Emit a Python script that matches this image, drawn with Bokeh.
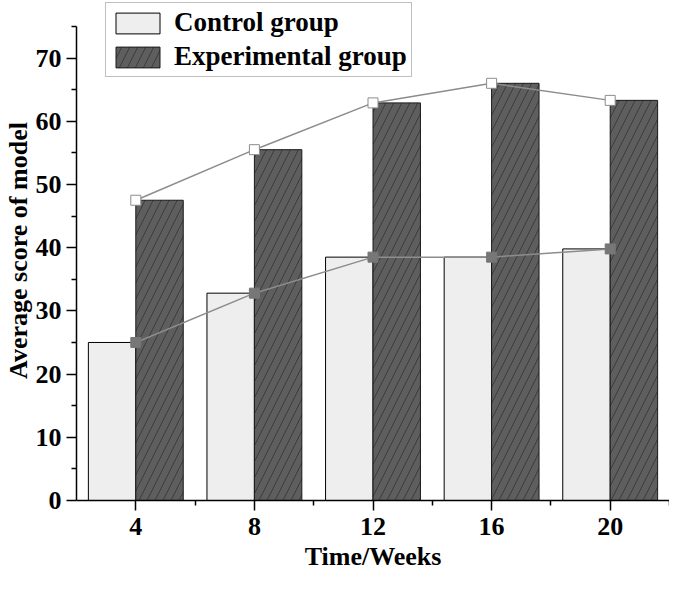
from bokeh.plotting import figure
from bokeh.models import (ColumnDataSource, FixedTicker, Legend, LegendItem, Range1d)
from bokeh.embed import file_html
from bokeh.resources import INLINE

# ---- data ----
weeks = [4, 8, 12, 16, 20]
tick_labels = ["4", "8", "12", "16", "20"]
control = [25.0, 32.8, 38.5, 38.5, 39.8]
experimental = [47.5, 55.5, 62.9, 66.0, 63.3]
y_ticks = [0, 10, 20, 30, 40, 50, 60, 70]
y_minor = [5, 15, 25, 35, 45, 55, 65, 75]
x_minor = [6, 10, 14, 18, 22]

BAR_W = 1.6
FONT = "Liberation Serif"
Y_AXIS_MAX = 75
Y_VIEW_MAX = 79.1   # frame extends above the axis end to hold the legend

ctrl_x = [w - BAR_W / 2 for w in weeks]
exp_x = [w + BAR_W / 2 for w in weeks]

src = ColumnDataSource(dict(weeks=weeks, ctrl_x=ctrl_x, exp_x=exp_x,
                            control=control, experimental=experimental))

p = figure(width=669, height=573, output_backend="svg", toolbar_location=None,
           x_range=Range1d(2, 22), y_range=Range1d(0, Y_VIEW_MAX),
           min_border_left=0, min_border_right=0, min_border_top=0,
           min_border_bottom=0)
p.outline_line_color = None
p.xgrid.visible = False
p.ygrid.visible = False
p.background_fill_color = "white"
p.border_fill_color = "white"

r_ctrl = p.vbar(x="ctrl_x", top="control", width=BAR_W, bottom=0, source=src,
                fill_color="#eeeeee", line_color="black", line_width=1)
r_exp = p.vbar(x="exp_x", top="experimental", width=BAR_W, bottom=0, source=src,
               fill_color="#5e5e5e", line_color="#1a1a1a", line_width=1,
               hatch_pattern="/", hatch_color="#2c2c2c", hatch_scale=16,
               hatch_weight=0.7)

p.line(x="weeks", y="experimental", source=src, line_color="#8c8c8c", line_width=1.5)
p.line(x="weeks", y="control", source=src, line_color="#8c8c8c", line_width=1.5)
p.scatter(x="weeks", y="experimental", source=src, marker="square", size=10,
          fill_color="white", line_color="#8c8c8c", line_width=1)
p.scatter(x="weeks", y="control", source=src, marker="square", size=10,
          fill_color="#777777", line_color="#777777", line_width=1)

# axes
p.xaxis.ticker = FixedTicker(ticks=weeks, minor_ticks=x_minor)
p.xaxis.major_label_overrides = {w: t for w, t in zip(weeks, tick_labels)}
p.yaxis.ticker = FixedTicker(ticks=y_ticks, minor_ticks=y_minor)
p.yaxis.bounds = (0, Y_AXIS_MAX)
for ax in (p.xaxis, p.yaxis):
    ax.axis_line_color = "black"
    ax.axis_line_width = 1.5
    ax.major_tick_line_color = "black"
    ax.major_tick_line_width = 1.5
    ax.minor_tick_line_color = "black"
    ax.minor_tick_line_width = 1.5
    ax.major_tick_in = 0
    ax.major_tick_out = 10
    ax.minor_tick_in = 0
    ax.minor_tick_out = 5
    ax.major_label_text_font = FONT
    ax.major_label_text_font_style = "bold"
    ax.major_label_text_font_size = "26px"
    ax.major_label_text_color = "black"
    ax.axis_label_text_font = FONT
    ax.axis_label_text_font_style = "bold"
    ax.axis_label_text_font_size = "26px"
    ax.axis_label_text_color = "black"

p.xaxis.axis_label = "Time/Weeks"
p.yaxis.axis_label = "Average score of model"
p.xaxis.major_label_standoff = 7
p.yaxis.major_label_standoff = 5
p.xaxis.axis_label_standoff = 4
p.yaxis.axis_label_standoff = 0

legend = Legend(items=[LegendItem(label="Control group", renderers=[r_ctrl]),
                       LegendItem(label="Experimental group", renderers=[r_exp])],
                location=(29, 423), orientation="vertical")
legend.label_text_font = FONT
legend.label_text_font_style = "bold"
legend.label_text_font_size = "27px"
legend.label_text_color = "black"
legend.glyph_width = 55
legend.glyph_height = 26
legend.label_height = 26
legend.label_standoff = 9
legend.padding = 4
legend.spacing = 3
legend.margin = 0
legend.border_line_color = "#808080"
legend.border_line_width = 1.5
legend.background_fill_color = "white"
legend.background_fill_alpha = 1
p.add_layout(legend, "center")

open("out.html", "w").write(file_html(p, INLINE))
